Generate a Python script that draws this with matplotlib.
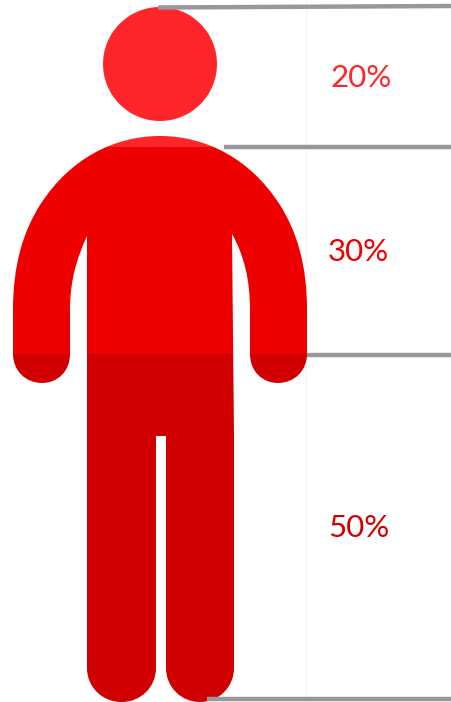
import matplotlib
matplotlib.use('Agg')
import matplotlib.pyplot as plt
from matplotlib.path import Path
from matplotlib.patches import PathPatch, Circle, Rectangle

W, H = 451, 702

# share of the body per section
labels = ['20%', '30%', '50%']
label_x = [330, 328, 328]
label_y = [78, 252, 528]
band_edges = [0, 147, 354, 702]
colors = ['#FE2629', '#EE0000', '#D00000']

# grey rules: y at the right end, where they start
rule_y = [6, 147, 355, 699]
rule_start = [158, 224, 307, 207]

# silhouette outline (pixels)
head_center = (160, 64)
head_radius = 57
body = [
    (Path.MOVETO, (160, 136)),
    (Path.CURVE4, (205, 136)), (Path.CURVE4, (250, 158)), (Path.CURVE4, (280, 205)),
    (Path.CURVE4, (297, 232)), (Path.CURVE4, (307, 265)), (Path.CURVE4, (307, 310)),
    (Path.LINETO, (307, 354)),
    (Path.CURVE4, (307, 371)), (Path.CURVE4, (294, 383)), (Path.CURVE4, (278, 383)),
    (Path.CURVE4, (262, 383)), (Path.CURVE4, (250, 371)), (Path.CURVE4, (250, 354)),
    (Path.LINETO, (250, 310)),
    (Path.CURVE4, (250, 280)), (Path.CURVE4, (244, 255)), (Path.CURVE4, (232, 234)),
    (Path.LINETO, (234, 435)),
    (Path.LINETO, (234, 668)),
    (Path.CURVE4, (234, 687)), (Path.CURVE4, (219, 702)), (Path.CURVE4, (200, 702)),
    (Path.CURVE4, (181, 702)), (Path.CURVE4, (166, 687)), (Path.CURVE4, (166, 668)),
    (Path.LINETO, (166, 436)),
    (Path.LINETO, (156, 436)),
    (Path.LINETO, (156, 668)),
    (Path.CURVE4, (156, 687)), (Path.CURVE4, (141, 702)), (Path.CURVE4, (121.5, 702)),
    (Path.CURVE4, (102, 702)), (Path.CURVE4, (87, 687)), (Path.CURVE4, (87, 668)),
    (Path.LINETO, (87, 236)),
    (Path.CURVE4, (77, 258)), (Path.CURVE4, (70, 280)), (Path.CURVE4, (70, 310)),
    (Path.LINETO, (70, 354)),
    (Path.CURVE4, (70, 371)), (Path.CURVE4, (58, 383)), (Path.CURVE4, (42, 383)),
    (Path.CURVE4, (26, 383)), (Path.CURVE4, (13, 371)), (Path.CURVE4, (13, 354)),
    (Path.LINETO, (13, 310)),
    (Path.CURVE4, (13, 265)), (Path.CURVE4, (23, 232)), (Path.CURVE4, (40, 205)),
    (Path.CURVE4, (70, 158)), (Path.CURVE4, (115, 136)), (Path.CURVE4, (160, 136)),
]

fig = plt.figure(figsize=(W / 100, H / 100), dpi=100)
ax = fig.add_axes([0, 0, 1, 1])
ax.set_xlim(0, W)
ax.set_ylim(H, 0)
ax.axis('off')

# faint guide next to the figure
ax.plot([306, 306], [0, H], color='#FBEFF2', lw=0.7, zorder=1)

codes = [c for c, _ in body]
verts = [v for _, v in body]
body_patch = PathPatch(Path(verts, codes), transform=ax.transData, fc='none', ec='none')
ax.add_patch(body_patch)

# the same silhouette, coloured per band
ax.add_patch(Circle(head_center, head_radius, fc=colors[0], ec='none', zorder=2))
for i, c in enumerate(colors):
    r = Rectangle((0, band_edges[i]), W, band_edges[i + 1] - band_edges[i], fc=c, ec='none', zorder=2)
    ax.add_patch(r)
    r.set_clip_path(body_patch)

for y, x0 in zip(rule_y, rule_start):
    ax.plot([x0, W], [y + (1.5 if y == 6 else 0), y], color='#97979C', lw=3.2, solid_capstyle='butt', zorder=3)

for lab, x, y, c in zip(labels, label_x, label_y, colors):
    ax.text(x, y, lab, color=c, fontsize=22.5, family='Lato', ha='left', va='center', zorder=4)

fig.savefig('out.png', dpi=100)
